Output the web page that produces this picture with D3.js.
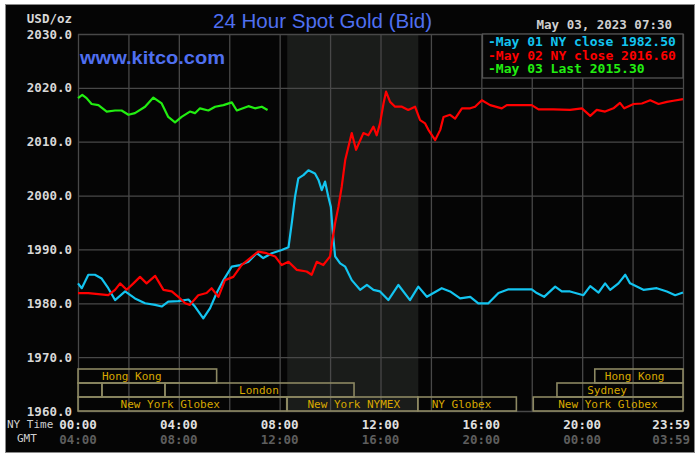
<!DOCTYPE html>
<html>
<head>
<meta charset="utf-8">
<script src="https://cdn.jsdelivr.net/npm/d3@7"></script>
<style>
  body { margin: 0; background: #ffffff; }
  svg { display: block; }
</style>
</head>
<body>
<svg id="chart" width="700" height="458"></svg>
<script>
/*global d3*/

// May 01 NY close series (hours NY time, USD/oz)
var may01Hours = [0, 0.15, 0.41, 0.67, 0.94, 1.2, 1.47, 1.87, 2.26, 2.66, 3.06, 3.32, 3.58, 3.98, 4.38, 4.64, 4.97, 5.24, 5.5, 5.77, 6.1, 6.43, 6.76, 7.09, 7.35, 7.69, 8.08, 8.35, 8.48, 8.61, 8.74, 8.94, 9.14, 9.4, 9.54, 9.67, 9.8, 9.93, 10.03, 10.1, 10.2, 10.4, 10.6, 10.86, 11.19, 11.46, 11.72, 11.98, 12.31, 12.71, 13.17, 13.5, 13.84, 14.1, 14.43, 14.76, 15.16, 15.56, 15.88, 16.02, 16.28, 16.68, 17.08, 18.0, 18.2, 18.49, 18.93, 19.19, 19.52, 20.05, 20.32, 20.65, 20.91, 21.11, 21.44, 21.71, 21.9, 22.43, 22.96, 23.36, 23.69, 24];
var may01Prices = [1983.7, 1982.8, 1985.3, 1985.3, 1984.6, 1982.8, 1980.6, 1982.2, 1980.9, 1980.0, 1979.7, 1979.4, 1980.3, 1980.4, 1980.7, 1979.4, 1977.2, 1979.1, 1981.9, 1984.3, 1986.8, 1987.1, 1987.7, 1989.3, 1988.4, 1989.3, 1989.9, 1990.4, 1994.9, 1999.8, 2003.2, 2003.8, 2004.7, 2004.1, 2002.9, 2001.0, 2002.6, 1999.8, 1997.9, 1993.6, 1988.7, 1987.4, 1986.8, 1984.3, 1982.5, 1983.4, 1982.5, 1982.2, 1980.6, 1983.4, 1980.6, 1983.1, 1981.2, 1981.9, 1982.8, 1982.2, 1980.9, 1981.2, 1980.0, 1980.0, 1980.0, 1981.9, 1982.6, 1982.6, 1981.9, 1981.2, 1983.1, 1982.2, 1982.2, 1981.5, 1983.2, 1982.0, 1983.7, 1982.5, 1983.7, 1985.3, 1983.7, 1982.5, 1982.8, 1982.2, 1981.5, 1982.0];

// May 02 NY close series
var may02Hours = [0, 0.41, 0.81, 1.2, 1.47, 1.67, 1.93, 2.2, 2.46, 2.72, 3.06, 3.39, 3.72, 3.98, 4.25, 4.44, 4.77, 5.1, 5.3, 5.57, 5.83, 6.16, 6.49, 6.83, 7.15, 7.48, 7.82, 8.08, 8.35, 8.68, 9.07, 9.27, 9.47, 9.73, 10.0, 10.07, 10.2, 10.33, 10.46, 10.6, 10.73, 10.86, 11.03, 11.32, 11.52, 11.72, 11.85, 11.98, 12.12, 12.22, 12.38, 12.58, 12.85, 13.1, 13.37, 13.57, 13.77, 13.9, 14.17, 14.37, 14.5, 14.76, 14.96, 15.23, 15.56, 15.75, 16.02, 16.35, 16.81, 17.01, 18.0, 18.27, 18.86, 19.52, 19.99, 20.32, 20.58, 20.91, 21.24, 21.5, 21.67, 22.04, 22.37, 22.7, 23.03, 23.36, 23.62, 24];
var may02Prices = [1981.9, 1981.9, 1981.7, 1981.5, 1982.5, 1983.7, 1982.5, 1983.7, 1984.9, 1983.7, 1985.1, 1982.5, 1982.2, 1981.2, 1980.0, 1979.7, 1981.5, 1981.9, 1982.8, 1981.2, 1984.3, 1984.9, 1987.1, 1988.4, 1989.6, 1989.3, 1988.7, 1987.1, 1987.7, 1986.2, 1985.9, 1985.3, 1987.7, 1987.1, 1988.7, 1991.1, 1994.9, 1997.9, 2001.6, 2006.6, 2009.1, 2011.6, 2008.5, 2011.6, 2011.2, 2012.8, 2011.2, 2013.4, 2017.1, 2019.3, 2017.4, 2016.5, 2016.5, 2015.9, 2016.5, 2014.0, 2013.4, 2012.2, 2010.3, 2012.2, 2014.6, 2015.0, 2014.3, 2016.2, 2016.2, 2016.5, 2017.7, 2016.8, 2016.2, 2016.8, 2016.8, 2016.0, 2016.0, 2015.9, 2016.2, 2014.8, 2015.9, 2015.6, 2016.2, 2017.2, 2016.2, 2017.0, 2017.1, 2017.7, 2017.0, 2017.4, 2017.6, 2017.9];

// May 03 last series (up to 07:30)
var may03Hours = [0, 0.17, 0.34, 0.54, 0.81, 1.14, 1.47, 1.73, 2.0, 2.26, 2.66, 2.99, 3.32, 3.58, 3.85, 4.11, 4.44, 4.64, 4.84, 5.17, 5.44, 5.77, 6.1, 6.3, 6.76, 7.02, 7.29, 7.52];
var may03Prices = [2018.1, 2018.7, 2018.1, 2017.0, 2016.8, 2015.6, 2015.8, 2015.8, 2015.0, 2015.3, 2016.5, 2018.2, 2017.1, 2014.6, 2013.6, 2014.6, 2015.6, 2015.3, 2016.2, 2015.8, 2016.5, 2016.8, 2017.3, 2015.8, 2016.6, 2016.2, 2016.5, 2015.9];

var legendLabels = ["-May 01 NY close 1982.50", "-May 02 NY close 2016.60", "-May 03 Last 2015.30"];
var seriesColors = ["#13c4f0", "#ff0000", "#22ee11"];

var priceTicks = [1960, 1970, 1980, 1990, 2000, 2010, 2020, 2030];
var hourTicks = [0, 4, 8, 12, 16, 20, 24];
var nyTimeLabels = ["00:00", "04:00", "08:00", "12:00", "16:00", "20:00", "23:59"];
var gmtLabels = ["04:00", "08:00", "12:00", "16:00", "20:00", "00:00", "03:59"];

// trading sessions (row 0 top .. row 2 bottom)
var sessionNames = ["Hong Kong", "Hong Kong", "", "", "London", "Sydney", "New York Globex", "New York NYMEX", "NY Globex", "New York Globex"];
var sessionRows = [0, 0, 1, 1, 1, 1, 2, 2, 2, 2];
var sessionStart = [0, 20.5, 0, 0.95, 3.45, 19.0, 0, 8.3, 13.48, 18.06];
var sessionEnd = [5.5, 24, 0.95, 3.45, 10.95, 24, 8.28, 13.48, 17.39, 24];
var sessionLabelAt = [0.95, 20.9, 0, 0, 6.39, 20.2, 1.69, 9.1, 14.03, 19.05];

var nymexOpen = 8.3, nymexClose = 13.5;

var svg = d3.select("#chart");
var mono = "'DejaVu Sans Mono', monospace";

var plotLeft = 78, plotRight = 683, plotTop = 34, plotBottom = 411;

var x = d3.scaleLinear().domain([0, 24]).range([plotLeft, plotRight]);
var y = d3.scaleLinear().domain([1960, 2030]).range([plotBottom, plotTop]);

// panel
svg.append("rect")
    .attr("x", 5.5).attr("y", 4.5)
    .attr("width", 689).attr("height", 448)
    .attr("fill", "#050505")
    .attr("stroke", "#8a8a8a");

// NYMEX shaded hours
svg.append("rect")
    .attr("x", x(nymexOpen)).attr("y", plotTop)
    .attr("width", x(nymexClose) - x(nymexOpen))
    .attr("height", plotBottom - plotTop)
    .attr("fill", "#1a1c1a");

// grid
svg.append("g")
    .attr("transform", "translate(0," + plotBottom + ")")
    .call(d3.axisBottom(x).tickValues(d3.range(0, 25, 2)).tickSize(-(plotBottom - plotTop)).tickFormat(""))
    .call(function (g) {
        g.select(".domain").remove();
        g.selectAll("line").attr("stroke", "#484848").attr("stroke-width", 1.3);
    });

svg.append("g")
    .attr("transform", "translate(" + plotLeft + ",0)")
    .call(d3.axisLeft(y).tickValues(priceTicks).tickSize(-(plotRight - plotLeft)).tickFormat(d3.format(".1f")).tickPadding(6))
    .call(function (g) {
        g.select(".domain").remove();
        g.selectAll("line").attr("stroke", "#484848").attr("stroke-width", 1.3);
        g.selectAll("text")
            .attr("fill", "#d8d8d8")
            .style("font-family", mono)
            .style("font-size", "12.5px")
            .style("font-weight", "bold");
    });

// session boxes
var rowH = 14;
var sessions = sessionNames.map(function (name, i) {
    return { name: name, row: sessionRows[i], start: sessionStart[i], end: sessionEnd[i], at: sessionLabelAt[i] };
});

var sessionG = svg.append("g");
sessionG.selectAll("rect")
    .data(sessions)
    .enter()
    .append("rect")
    .attr("x", function (d) { return x(d.start); })
    .attr("y", function (d) { return plotBottom - (3 - d.row) * rowH; })
    .attr("width", function (d) { return x(d.end) - x(d.start); })
    .attr("height", rowH)
    .attr("fill", "none")
    .attr("stroke", "#8c8862")
    .attr("stroke-width", 1.6);

sessionG.selectAll("text")
    .data(sessions.filter(function (d) { return d.name; }))
    .enter()
    .append("text")
    .attr("x", function (d) { return x(d.at); })
    .attr("y", function (d) { return plotBottom - (2 - d.row) * rowH - 3; })
    .attr("fill", "#d8a800")
    .style("font-family", mono)
    .style("font-size", "11px")
    .text(function (d) { return d.name; });

// price lines
var line = d3.line()
    .x(function (d) { return x(d[0]); })
    .y(function (d) { return y(d[1]); });

var series = [
    d3.zip(may01Hours, may01Prices),
    d3.zip(may02Hours, may02Prices),
    d3.zip(may03Hours, may03Prices)
];

svg.append("g").selectAll("path")
    .data(series)
    .enter()
    .append("path")
    .attr("d", line)
    .attr("fill", "none")
    .attr("stroke", function (d, i) { return seriesColors[i]; })
    .attr("stroke-width", 2.2)
    .attr("stroke-linejoin", "round");

// legend
svg.append("rect")
    .attr("x", 482.5).attr("y", plotTop)
    .attr("width", plotRight - 482.5).attr("height", 44)
    .attr("fill", "#050505")
    .attr("stroke", "#555555")
    .attr("stroke-width", 1.3);

svg.append("g").selectAll("text")
    .data(legendLabels)
    .enter()
    .append("text")
    .attr("x", 488)
    .attr("y", function (d, i) { return 46 + i * 13.5; })
    .attr("fill", function (d, i) { return seriesColors[i]; })
    .style("font-family", mono)
    .style("font-size", "13px")
    .style("font-weight", "bold")
    .text(function (d) { return d; });

// time axes
var timeAxis = svg.append("g");
timeAxis.selectAll("text.ny")
    .data(hourTicks)
    .enter()
    .append("text")
    .attr("class", "ny")
    .attr("x", function (d, i) { return i === hourTicks.length - 1 ? 690 : x(d); })
    .attr("y", 429)
    .attr("text-anchor", function (d, i) { return i === hourTicks.length - 1 ? "end" : "middle"; })
    .attr("fill", "#e0e0e0")
    .style("font-family", mono)
    .style("font-size", "12.5px")
    .style("font-weight", "bold")
    .text(function (d, i) { return nyTimeLabels[i]; });

timeAxis.selectAll("text.gmt")
    .data(hourTicks)
    .enter()
    .append("text")
    .attr("class", "gmt")
    .attr("x", function (d, i) { return i === hourTicks.length - 1 ? 690 : x(d); })
    .attr("y", 444)
    .attr("text-anchor", function (d, i) { return i === hourTicks.length - 1 ? "end" : "middle"; })
    .attr("fill", "#5e5e5e")
    .style("font-family", mono)
    .style("font-size", "12.5px")
    .style("font-weight", "bold")
    .text(function (d, i) { return gmtLabels[i]; });

svg.append("text")
    .attr("x", 7).attr("y", 428)
    .attr("fill", "#d0d0d0")
    .style("font-family", mono)
    .style("font-size", "11px")
    .text("NY Time");

svg.append("text")
    .attr("x", 17).attr("y", 442)
    .attr("fill", "#d0d0d0")
    .style("font-family", mono)
    .style("font-size", "11px")
    .text("GMT");

// header texts
svg.append("text")
    .attr("x", 72).attr("y", 23)
    .attr("text-anchor", "end")
    .attr("fill", "#d8d8d8")
    .style("font-family", mono)
    .style("font-size", "12.5px")
    .style("font-weight", "bold")
    .text("USD/oz");

svg.append("text")
    .attr("x", 213).attr("y", 28)
    .attr("fill", "#4f6ff0")
    .attr("textLength", 219)
    .attr("lengthAdjust", "spacingAndGlyphs")
    .style("font-family", "'Liberation Sans', Arial, sans-serif")
    .style("font-size", "21px")
    .text("24 Hour Spot Gold (Bid)");

svg.append("text")
    .attr("x", 80).attr("y", 64)
    .attr("fill", "#4f6ff0")
    .attr("textLength", 145)
    .attr("lengthAdjust", "spacingAndGlyphs")
    .style("font-family", "'Liberation Sans', Arial, sans-serif")
    .style("font-size", "19px")
    .style("font-weight", "bold")
    .text("www.kitco.com");

svg.append("text")
    .attr("x", 672).attr("y", 29)
    .attr("text-anchor", "end")
    .attr("fill", "#d0d0d0")
    .style("font-family", mono)
    .style("font-size", "12.5px")
    .style("font-weight", "bold")
    .text("May 03, 2023 07:30");
</script>
</body>
</html>
